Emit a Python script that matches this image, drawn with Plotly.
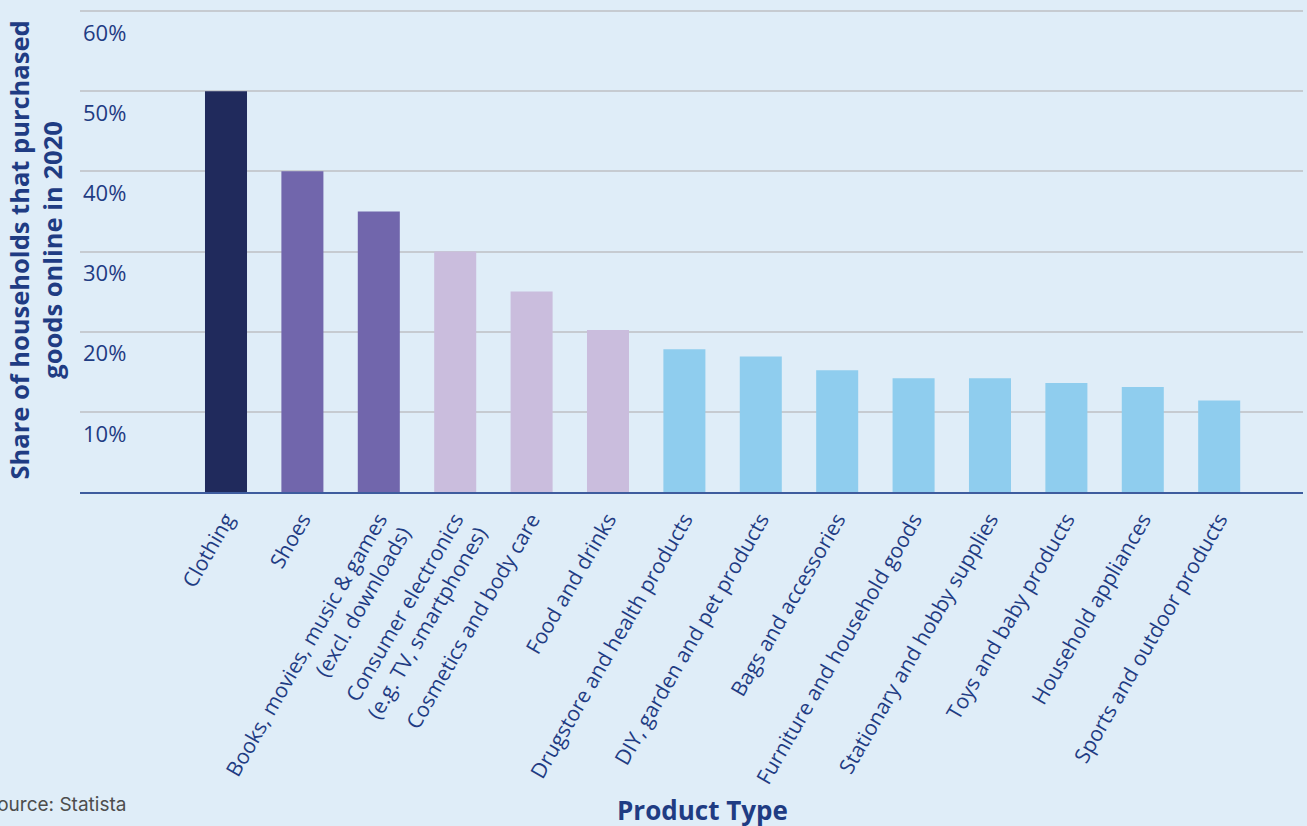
import plotly.graph_objects as go

categories = [
    "Clothing",
    "Shoes",
    "Books, movies, music & games<br>(excl. downloads)",
    "Consumer electronics<br>(e.g. TV, smartphones)",
    "Cosmetics and body care",
    "Food and drinks",
    "Drugstore and health products",
    "DIY, garden and pet products",
    "Bags and accessories",
    "Furniture and household goods",
    "Stationary and hobby supplies",
    "Toys and baby products",
    "Household appliances",
    "Sports and outdoor products",
]
values = [50, 40, 35, 30, 25, 20.2, 17.8, 16.9, 15.2, 14.2, 14.2, 13.6, 13.1, 11.4]
bar_colors = ["#202A5C", "#7166AC", "#7166AC", "#CABDDD", "#CABDDD", "#CABDDD",
              "#8FCDEE", "#8FCDEE", "#8FCDEE", "#8FCDEE", "#8FCDEE", "#8FCDEE",
              "#8FCDEE", "#8FCDEE"]
y_ticks = [0, 10, 20, 30, 40, 50, 60]
y_ticktext = ["0%", "10%", "20%", "30%", "40%", "50%", "60%"]

BG = "#DFEDF8"
TXT = "#1F3C83"
FONT = "Open Sans"

fig = go.Figure(go.Bar(
    x=categories, y=values, marker=dict(color=bar_colors, line=dict(width=0)),
    width=0.55, hoverinfo="skip",
))

fig.update_layout(
    width=1307, height=826,
    margin=dict(l=80, r=4, t=9, b=334),
    paper_bgcolor=BG, plot_bgcolor=BG,
    font=dict(family=FONT, color=TXT),
    showlegend=False,
)
fig.update_xaxes(
    range=[-1.911, 14.097],
    tickangle=-60,
    tickfont=dict(size=21, color=TXT, family=FONT),
    showline=True, linecolor="#3E5C9E", linewidth=2,
    showgrid=False, ticks="",
    ticklabelstandoff=5,
)
fig.update_yaxes(
    range=[0, 60.25],
    tickvals=y_ticks, ticktext=y_ticktext,
    ticklabelposition="inside",
    ticklabelshift=22,
    tickfont=dict(size=22, color=TXT, family=FONT),
    showgrid=True, gridcolor="#C6CBD1", gridwidth=1.8,
    zeroline=False, showline=False, ticks="",
)

fig.add_annotation(
    text="<b>Share of households that purchased<br>goods online in 2020</b>",
    xref="paper", yref="paper", x=0, y=0.5, xshift=-45,
    textangle=-90, showarrow=False, xanchor="center", yanchor="middle",
    font=dict(size=25.5, color=TXT, family=FONT),
)
fig.add_annotation(
    text="<b>Product Type</b>",
    xref="paper", yref="paper", x=0.509, y=0, yshift=-318,
    showarrow=False, xanchor="center", yanchor="middle",
    font=dict(size=26, color=TXT, family=FONT),
)
fig.add_annotation(
    text="Source: Statista",
    xref="paper", yref="paper", x=0, y=0, xshift=48, yshift=-312,
    showarrow=False, xanchor="right", yanchor="middle",
    font=dict(size=19, color="#4D4D4D", family="Inter"),
)

fig.write_html("out.html")
